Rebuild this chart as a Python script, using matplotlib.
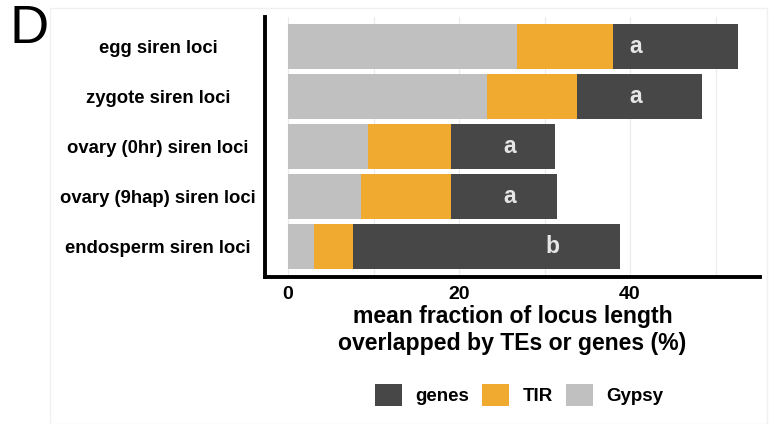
import matplotlib
matplotlib.use("Agg")
import matplotlib.pyplot as plt
from matplotlib.patches import Patch, Rectangle

plt.rcParams["font.family"] = ["Liberation Sans", "DejaVu Sans"]

# Stacked fractions of locus length (%) per siren-locus set
categories = ["egg siren loci", "zygote siren loci", "ovary (0hr) siren loci",
              "ovary (9hap) siren loci", "endosperm siren loci"]
gypsy = [26.8, 23.3, 9.3, 8.5, 3.0]
tir = [11.2, 10.5, 9.7, 10.6, 4.6]
genes = [14.6, 14.6, 12.2, 12.4, 31.2]
letters = ["a", "a", "a", "a", "b"]
letter_x = [40.7, 40.7, 25.9, 25.9, 30.9]
xticks = [0, 20, 40]

c_gypsy = "#c0c0c0"
c_tir = "#f0aa30"
c_genes = "#474747"

fig = plt.figure(figsize=(7.69, 4.24), dpi=100)
ax = fig.add_axes([265 / 769, 1 - 276.5 / 424, (760 - 265) / 769, (276.5 - 17) / 424])

ypos = list(range(len(categories)))
left_tir = [g for g in gypsy]
left_genes = [g + t for g, t in zip(gypsy, tir)]
ax.barh(ypos, gypsy, height=0.9, color=c_gypsy, zorder=2)
ax.barh(ypos, tir, left=left_tir, height=0.9, color=c_tir, zorder=2)
ax.barh(ypos, genes, left=left_genes, height=0.9, color=c_genes, zorder=2)

for y, lx, lt in zip(ypos, letter_x, letters):
    ax.text(lx, y, lt, ha="center", va="center", color="#e6e6e6",
            fontsize=16.5, fontweight="bold", zorder=3)

ax.set_xlim(-2.7, 55.2)
ax.set_ylim(len(categories) - 0.4, -0.6)
ax.set_xticks(xticks)
ax.set_xticks([10, 30, 50], minor=True)
ax.grid(axis="x", which="both", color="#ebebeb", linewidth=0.8, zorder=0)
ax.tick_params(axis="both", which="both", length=0)
ax.set_yticks(ypos)
ax.set_yticklabels(categories, fontsize=13.3, fontweight="bold", ha="center")
ax.tick_params(axis="y", pad=77)
ax.tick_params(axis="x", pad=7)
for lbl in ax.get_xticklabels():
    lbl.set_fontsize(14)
    lbl.set_fontweight("bold")

for s in ["top", "right"]:
    ax.spines[s].set_visible(False)
for s in ["left", "bottom"]:
    ax.spines[s].set_linewidth(2.8)
    ax.spines[s].set_color("black")

ax.set_xlabel("mean fraction of locus length\noverlapped by TEs or genes (%)",
              fontsize=16.6, fontweight="bold", linespacing=1.22, labelpad=1)

handles = [Patch(facecolor=c_genes, label="genes"),
           Patch(facecolor=c_tir, label="TIR"),
           Patch(facecolor=c_gypsy, label="Gypsy")]
fig.legend(handles=handles, loc="center", bbox_to_anchor=(519 / 769, 1 - 395 / 424),
           ncol=3, frameon=False, prop={"weight": "bold", "size": 13.5},
           handlelength=1.45, handleheight=1.4, columnspacing=0.7, handletextpad=0.7)

# faint outer panel frame
fig.patches.append(Rectangle((50 / 769, 0), 717 / 769, 1 - 8 / 424,
                             transform=fig.transFigure, fill=False,
                             edgecolor="#f0f0f0", linewidth=1))

fig.text(9 / 769, 1 - 29 / 424, "D", fontsize=39, ha="left", va="center")

fig.savefig("out.png", dpi=100)
